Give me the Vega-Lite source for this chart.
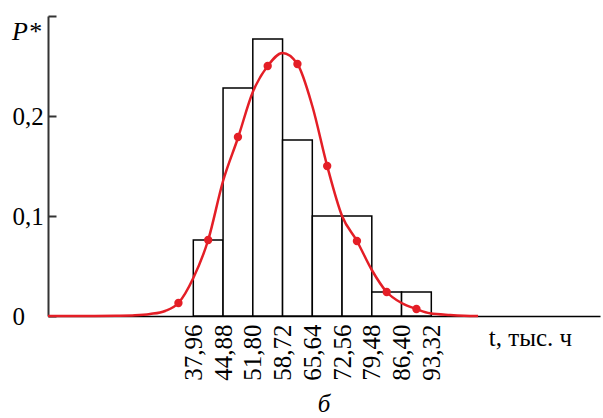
{
  "$schema": "https://vega.github.io/schema/vega-lite/v6.json",
  "width": 552,
  "height": 300,
  "autosize": "none",
  "padding": {"left": 48, "top": 16, "right": 3, "bottom": 102},
  "background": "white",
  "config": {"view": {"stroke": null}, "font": "Liberation Serif, Times New Roman, serif"},
  "title": {"text": "б", "orient": "bottom", "anchor": "middle", "font": "Liberation Serif, Times New Roman, serif", "fontStyle": "italic", "fontWeight": "normal", "fontSize": 25, "color": "black", "offset": 12},
  "datasets": {
    "bins": [
      {"t": 37.96, "t2": 44.88, "p": 0.076},
      {"t": 44.88, "t2": 51.80, "p": 0.228},
      {"t": 51.80, "t2": 58.72, "p": 0.277},
      {"t": 58.72, "t2": 65.64, "p": 0.176},
      {"t": 65.64, "t2": 72.56, "p": 0.100},
      {"t": 72.56, "t2": 79.48, "p": 0.100},
      {"t": 79.48, "t2": 86.40, "p": 0.024},
      {"t": 86.40, "t2": 93.32, "p": 0.024}
    ],
    "curve": [
      {"t": 4.16, "p": 0},
      {"t": 15, "p": 0},
      {"t": 20, "p": 0.0002},
      {"t": 24.4, "p": 0.0007},
      {"t": 27.9, "p": 0.002},
      {"t": 31.4, "p": 0.005},
      {"t": 34.5, "p": 0.013},
      {"t": 37.96, "p": 0.038},
      {"t": 41.42, "p": 0.076},
      {"t": 44.88, "p": 0.135},
      {"t": 48.34, "p": 0.178},
      {"t": 51.80, "p": 0.224},
      {"t": 55.26, "p": 0.250},
      {"t": 58.70, "p": 0.263},
      {"t": 62.18, "p": 0.252},
      {"t": 65.64, "p": 0.210},
      {"t": 69.10, "p": 0.150},
      {"t": 72.56, "p": 0.100},
      {"t": 76.02, "p": 0.075},
      {"t": 79.48, "p": 0.046},
      {"t": 82.94, "p": 0.024},
      {"t": 86.40, "p": 0.013},
      {"t": 89.86, "p": 0.007},
      {"t": 93.0, "p": 0.0027},
      {"t": 97.7, "p": 0.001},
      {"t": 101, "p": 0.0003},
      {"t": 104.2, "p": 0}
    ],
    "marks": [
      {"t": 34.50, "p": 0.013},
      {"t": 41.42, "p": 0.076},
      {"t": 48.34, "p": 0.179},
      {"t": 55.26, "p": 0.250},
      {"t": 62.18, "p": 0.252},
      {"t": 69.10, "p": 0.150},
      {"t": 76.02, "p": 0.075},
      {"t": 82.94, "p": 0.024},
      {"t": 89.86, "p": 0.007}
    ]
  },
  "encoding": {
    "x": {
      "field": "t", "type": "quantitative",
      "scale": {"domain": [4.16, 132.56], "nice": false, "zero": false},
      "axis": {
        "orient": "bottom",
        "values": [37.96, 44.88, 51.80, 58.72, 65.64, 72.56, 79.48, 86.40, 93.32],
        "labelExpr": "replace(format(datum.value, '.2f'), '.', ',')",
        "labelAngle": -90,
        "labelFont": "Liberation Serif, Times New Roman, serif", "labelFontSize": 25, "labelColor": "black",
        "labelPadding": 8, "labelOverlap": false, "labelFlush": false,
        "ticks": false, "grid": false,
        "domainColor": "black", "domainWidth": 1.5,
        "title": "t, тыс. ч",
        "titleFont": "Liberation Serif, Times New Roman, serif", "titleFontSize": 25, "titleFontWeight": "normal", "titleColor": "black",
        "titleX": 482, "titleY": 29, "titleAlign": "center", "titleBaseline": "alphabetic"
      }
    },
    "y": {
      "field": "p", "type": "quantitative",
      "scale": {"domain": [0, 0.3], "nice": false},
      "axis": {
        "orient": "left",
        "values": [0, 0.1, 0.2, 0.3],
        "labelExpr": "datum.value > 0.25 ? '' : (datum.value == 0 ? '0' : replace(format(datum.value, '.1f'), '.', ','))",
        "labelFont": "Liberation Serif, Times New Roman, serif", "labelFontSize": 25, "labelColor": "black",
        "labelAlign": "left", "labelPadding": 44,
        "tickSize": -8, "tickColor": "#333", "tickWidth": 2,
        "grid": false,
        "domainColor": "#333", "domainWidth": 2,
        "title": "P*",
        "titleFont": "Liberation Serif, Times New Roman, serif", "titleFontSize": 26, "titleFontStyle": "italic", "titleFontWeight": "normal", "titleColor": "black",
        "titleAngle": 0, "titleX": -22, "titleY": 23, "titleAlign": "center", "titleBaseline": "alphabetic"
      }
    }
  },
  "layer": [
    {
      "data": {"name": "bins"},
      "mark": {"type": "rect", "fill": "white", "stroke": "black", "strokeWidth": 1.5},
      "encoding": {"x2": {"field": "t2"}, "y2": {"datum": 0}}
    },
    {
      "data": {"name": "curve"},
      "mark": {"type": "line", "color": "#e41e26", "strokeWidth": 2.5, "interpolate": "monotone"},
      "encoding": {}
    },
    {
      "data": {"name": "marks"},
      "mark": {"type": "point", "filled": true, "color": "#e41e26", "size": 70, "opacity": 1},
      "encoding": {}
    }
  ]
}
